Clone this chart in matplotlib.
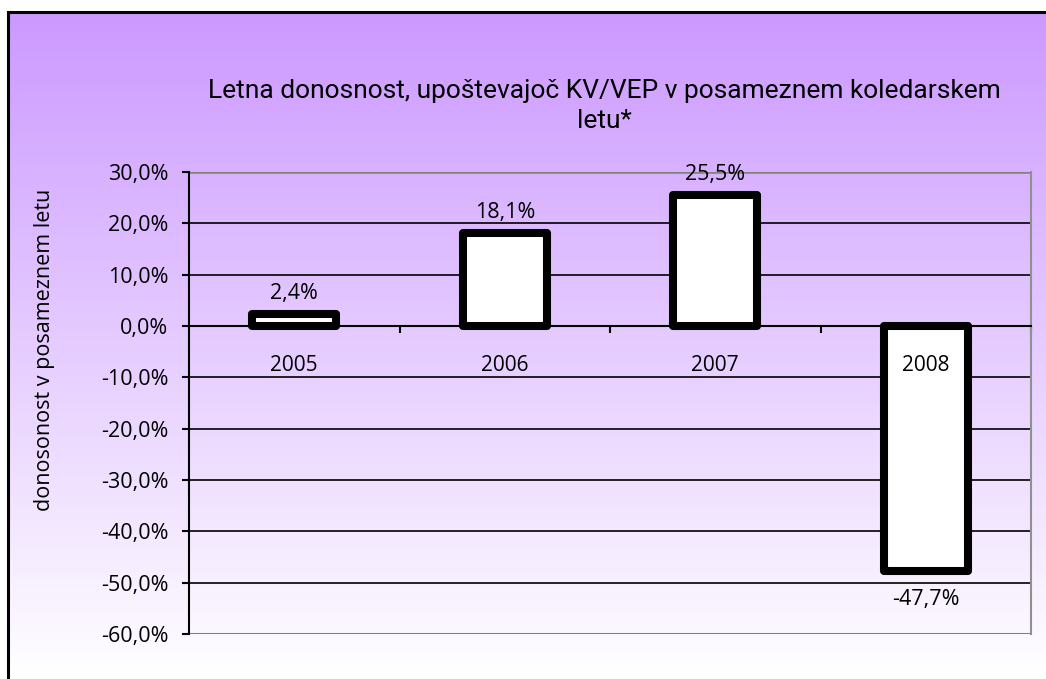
import numpy as np
import matplotlib
matplotlib.use("Agg")
import matplotlib.pyplot as plt
import matplotlib.transforms as mtransforms
from matplotlib.patches import Rectangle
from matplotlib.colors import LinearSegmentedColormap

years = ["2005", "2006", "2007", "2008"]
returns = [2.4, 18.1, 25.5, -47.7]
value_labels = ["2,4%", "18,1%", "25,5%", "-47,7%"]
yticks = [30, 20, 10, 0, -10, -20, -30, -40, -50, -60]
ytick_labels = ["30,0%", "20,0%", "10,0%", "0,0%", "-10,0%", "-20,0%",
                "-30,0%", "-40,0%", "-50,0%", "-60,0%"]
title = "Letna donosnost, upoštevajoč KV/VEP v posameznem koledarskem\nletu*"
ylabel = "donosonost v posameznem letu"

FONT = ["Open Sans", "DejaVu Sans"]
W, H = 1046, 679
fig = plt.figure(figsize=(W / 100, H / 100), dpi=100)
fig.patch.set_facecolor("white")

# gradient background (figure region)
x0, y0 = 8 / W, 0.0
bw, bh = 1 - x0, 1 - 12 / H
bg = fig.add_axes([x0, y0, bw, bh], zorder=0)
grad = np.linspace(0, 1, 256).reshape(-1, 1)
cmap = LinearSegmentedColormap.from_list("g", ["#ffffff", "#cc99ff"])
bg.imshow(grad, aspect="auto", cmap=cmap, origin="lower", extent=[0, 1, 0, 1])
bg.set_axis_off()
fig.patches.append(Rectangle((x0, y0 - 0.01), bw + 0.01, bh + 0.01, transform=fig.transFigure,
                             fill=False, edgecolor="black", linewidth=2.2, zorder=1))

left, right = 189 / W, 1031 / W
top, bottom = 1 - 172 / H, 1 - 634 / H
ax = fig.add_axes([left, bottom, right - left, top - bottom], zorder=2)
ax.patch.set_alpha(0)

x = np.arange(len(years))
ax.bar(x, returns, width=0.4, color="white", edgecolor="black", linewidth=5.8,
       joinstyle="round", zorder=2)

ax.set_xlim(-0.5, 3.5)
ax.set_ylim(-60, 30)
ax.set_yticks(yticks)
ax.set_yticklabels(ytick_labels, fontsize=15.5, family=FONT)
for t in [20, 10, -10, -20, -30, -40, -50]:
    ax.axhline(t, color="black", linewidth=1.2, zorder=1)
ax.axhline(30, color="#808080", linewidth=1.8, zorder=1)
ax.axhline(-60, color="#808080", linewidth=2.2, zorder=1)

ax.spines["top"].set_visible(False)
ax.spines["right"].set_color("#909090")
ax.spines["right"].set_linewidth(1.5)
ax.spines["left"].set_linewidth(1.5)
ax.spines["bottom"].set_position(("data", 0))
ax.spines["bottom"].set_linewidth(1.5)

ax.set_xticks([0.5, 1.5, 2.5, 3.5])
ax.set_xticklabels([])
ax.tick_params(axis="x", which="major", direction="out", length=5, width=1.5)
ax.tick_params(axis="y", direction="out", length=5, width=1.5, pad=10)

# category labels just below the zero line
cat_tr = mtransforms.offset_copy(ax.transData, fig=fig, x=0, y=-40 * 0.72, units="points")
for xi, yr in zip(x, years):
    ax.text(xi, 0, yr, transform=cat_tr, ha="center", va="center",
            fontsize=15, family=FONT, zorder=5)

for xi, v, lab in zip(x, returns, value_labels):
    if v >= 0:
        ax.annotate(lab, (xi, v), xytext=(0, 7), textcoords="offset points",
                    ha="center", va="bottom", fontsize=15.5, family=FONT, zorder=4)
    else:
        ax.annotate(lab, (xi, v), xytext=(0, -13), textcoords="offset points",
                    ha="center", va="top", fontsize=15.5, family=FONT, zorder=4)

fig.text(604 / W, 1 - 106 / H, title, ha="center", va="center", fontsize=19,
         family=["Roboto", "DejaVu Sans"], linespacing=1.3)
fig.text(45 / W, 1 - 350 / H, ylabel, rotation=90, ha="center", va="center",
         fontsize=15.5, family=FONT)

fig.savefig("out.png", dpi=100)
